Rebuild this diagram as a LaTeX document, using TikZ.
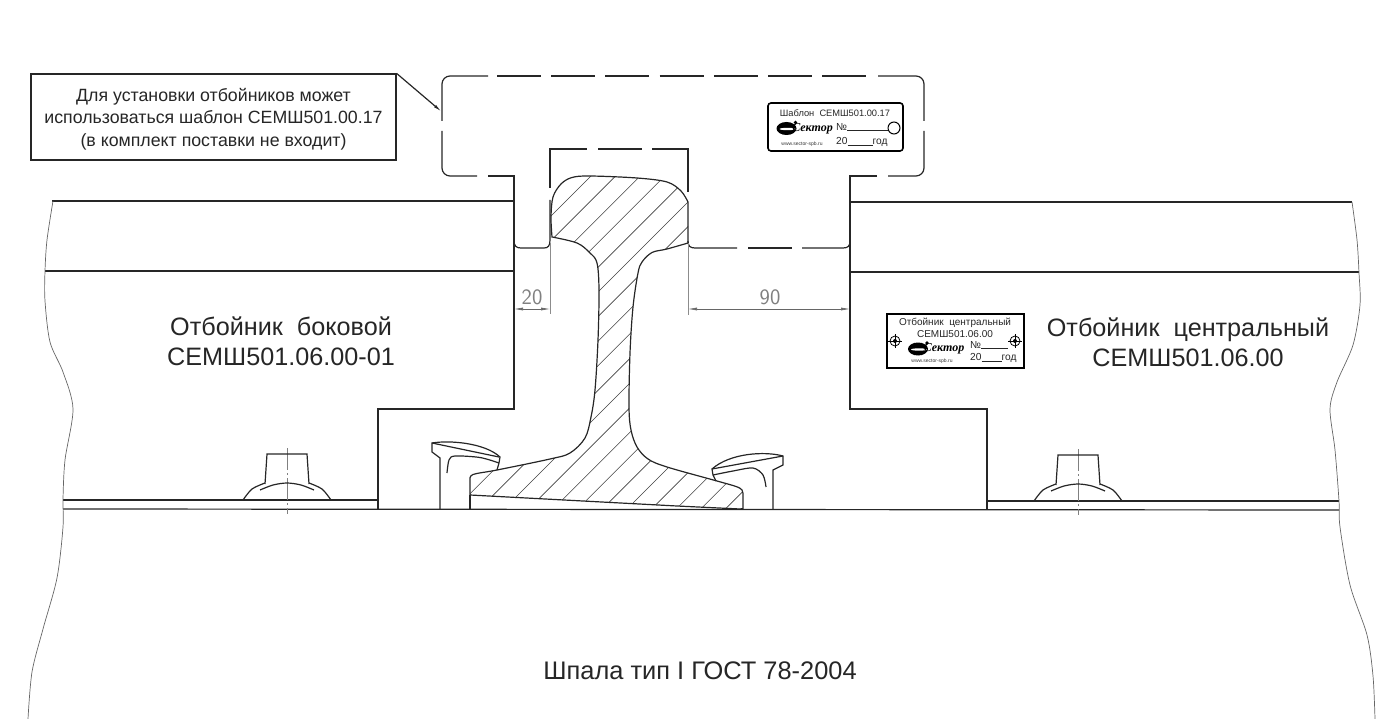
\documentclass[tikz,border=0pt]{standalone}
\usepackage{fontspec}
\setmainfont{Liberation Sans}
\newfontfamily\logofont{Liberation Serif}
\usetikzlibrary{arrows.meta}
\newcommand{\fsz}[1]{\fontsize{#1}{#1}\selectfont}
\newcommand{\railoutline}{plot[smooth,tension=.55] coordinates {(552,237) (551,217) (553,197) (561,184) (572,177.5) (590,176) (637,178) (667,182) (681,191) (688,202)}
    -- plot[smooth,tension=.55] coordinates {(688,243) (667,249) (652,252.5) (642,262) (638,273) (633,307) (630,353) (629,407) (631,430) (637,447) (648,459) (667,467) (717,481) (736,486.5) (742,490) (743,495)}
    -- (743,508.5) -- (740,509) -- (677,506) -- (470,495)
    -- plot[smooth,tension=.55] coordinates {(470,480) (473,474.5) (497,470) (550,459) (570,453) (585,438) (591,417) (595,390) (598,340) (599,290) (597,263) (590,253) (577,243) (552,237)} -- cycle}
\tikzset{
    outline/.style={line width=1.2pt,black!85},
    edgeline/.style={line width=.7pt,black!60},
    hatch/.style={line width=.6pt,black!75},
    extline/.style={line width=.7pt,black!45},
    dimline/.style={line width=.6pt,black!60,{Latex[length=9pt,width=3pt]}-{Latex[length=9pt,width=3pt]}},
    centerline/.style={line width=.6pt,black!50,dash pattern=on 22pt off 3pt on 2pt off 3pt},
    dimtext/.style={font=\sffamily\fsz{22},text=black!50,inner sep=0pt},
    bigtext/.style={font=\fsz{25.2},text=black!85,align=center,inner sep=0pt},
    platetext/.style={font=\fsz{9.3},text=black!85,inner sep=0pt},
    fieldtext/.style={font=\fsz{10.2},text=black!85,inner sep=0pt,anchor=west},
    tinytext/.style={font=\fsz{5},text=black!80,inner sep=0pt},
    logomark/.pic={
        \fill (-16,0) ellipse (10 and 6.5);
        \fill[white] (-15,.5) ellipse (8 and 1.2);
        \fill (-7,-6) circle (1.8);
        \node[inner sep=0pt,font=\logofont\itshape\bfseries\fsz{12}] (word) at (10,0) {Сектор};
    }
}
\begin{document}
\begin{tikzpicture}[x=1pt,y=-1pt]
        \useasboundingbox (0,0) rectangle (1400,719);
        % template, dashed outline
        \draw[outline,rounded corners=8pt] (477,176)--(442,176)--(442,131);
        \draw[outline,rounded corners=8pt] (442,121)--(442,76)--(488,76);
        \foreach \a in {0,...,6}
            \draw[outline] ({497+54.2*\a},76)--({541+54.2*\a},76);
        \draw[outline,rounded corners=8pt] (878,76)--(924,76)--(924,121);
        \draw[outline,rounded corners=8pt] (924,131)--(924,176)--(888,176);
        \draw[outline] (550,188)--(550,149)--(587,149);
        \draw[outline] (598,149)--(642,149);
        \draw[outline] (652,149)--(688,149)--(688,192);
        \draw[outline] (737,248)--(695,248) .. controls (690,248) and (688,246) .. (688,241);
        \draw[outline] (748,248)--(792,248);
        \draw[outline] (802,248)--(843,248) .. controls (848,248) and (850,246) .. (850,241);
        \draw[outline] (514,240) .. controls (514,246) and (516,248) .. (521,248)--(544,248) .. controls (548,248) and (550,246) .. (550,240)--(550,200);
        
        % chocks and sleeper
        \draw[outline] (488,176)--(514,176)--(514,409)--(378,409)--(378,509);
        \draw[outline] (877,176)--(850,176)--(850,409)--(987,409)--(987,510);
        \draw[outline] (52,201)--(514,201);
        \draw[outline] (45,271)--(514,271);
        \draw[outline] (850,202)--(1352,202);
        \draw[outline] (850,272)--(1359,272);
        \draw[outline] (63,500)--(378,500);
        \draw[outline] (987,501)--(1339,501);
        \draw[outline] (63,509)--(1339,510);
        \draw[edgeline] plot[smooth] coordinates {(53,201) (47,240) (45,271) (45,301) (50,342) (63,372) (73,409) (65,460) (63,499) (63,527) (57,578) (43,629) (32,672) (28,719)};
        \draw[edgeline] plot[smooth] coordinates {(1352,202) (1357,240) (1359,273) (1360,305) (1353,345) (1337,382) (1330,409) (1335,450) (1339,501) (1340,527) (1350,585) (1367,635) (1373,676) (1375,719)};
        
        % rail
        \begin{scope}
            \clip \railoutline;
            \foreach \k in {0,...,19}
                \draw[hatch] (440,{767+24.6*\k-440})--(760,{767+24.6*\k-760});
        \end{scope}
        \draw[outline] \railoutline;
        \draw[outline] (470,495)--(470,509);
        
        % rail clips
        \draw[outline] (440,509)--(440,458)--(432,452)--(432,443) .. controls (450,440) and (485,443) .. (500,457)--(499,463)--(497,470);
        \draw[outline] (432,443)--(499,457);
        \draw[outline] plot[smooth] coordinates {(499,463) (480,457.5) (455,456) (449,460) (447,473)};
        \draw[outline] (773,509)--(773,470)--(783,465)--(783,456) .. controls (765,451) and (730,453) .. (712,469)--(713,475)--(716,481);
        \draw[outline] (783,456)--(712,469);
        \draw[outline] plot[smooth] coordinates {(713,475) (733,471) (753,468) (763,475) (766,487)};
        
        % bolts
        \foreach \cx/\dy in {287/0,1078/1} {
            \begin{scope}[shift={(\cx,\dy)}]
                \draw[centerline] (0,448)--(0,514);
                \draw[outline] (-22,484)--(-20,454)--(20,454)--(22,484);
                \draw[outline] plot[smooth] coordinates {(-27,490) (-14,485) (0,483) (14,485) (27,490)};
                \draw[outline] plot[smooth] coordinates {(-44,500) (-35,489) (-22,483)};
                \draw[outline] plot[smooth] coordinates {(22,483) (35,489) (44,500)};
            \end{scope}
        }
        
        % dimensions
        \coordinate (chockL) at (514,309);
        \coordinate (railL) at (550,309);
        \coordinate (railR) at (688,309);
        \coordinate (chockR) at (850,309);
        \draw[extline] (550,243)--(550,314);
        \draw[extline] (688,243)--(688,315);
        \draw[dimline] (chockL)--(railL);
        \draw[dimline] (railR)--(chockR);
        \node[dimtext] (dimA) at (532,297) {20};
        \node[dimtext] (dimB) at (770,297) {90};
        
        % callout
        \node[draw,outline,text=black!85,fill=white,minimum width=365pt,minimum height=86pt,inner sep=0pt,align=center,font=\fontsize{17.75}{22.5}\selectfont] (note) at (213.5,117) {\rule{0pt}{17pt}Для установки отбойников может\\использоваться шаблон СЕМШ501.00.17\\(в комплект поставки не входит)};
        \coordinate (notemark) at (442,112);
        \draw[outline,-{Latex[length=9pt,width=3pt]}] (note.north east)--(notemark);
        
        % texts
        \node[bigtext] (leftname) at (281,341) {Отбойник\ \ боковой\\[5pt]СЕМШ501.06.00-01};
        \node[bigtext] (rightname) at (1188,342) {Отбойник\ \ центральный\\[5pt]СЕМШ501.06.00};
        \node[bigtext,font=\fsz{25.4}] (sleeper) at (700,671) {Шпала тип I ГОСТ 78-2004};
        
        % plate of the template
        \node[draw,line width=1.6pt,black,rounded corners=3pt,minimum width=135pt,minimum height=48pt,inner sep=0pt] (tplplate) at (835.5,127) {};
        \node[platetext] (tpltitle) at (835,113) {Шаблон\ \ СЕМШ501.00.17};
        \pic (tpllogo) at (802.5,128.5) {logomark};
        \node[fieldtext] (tplnum) at (836,127) {№\rule[-.8pt]{42pt}{.6pt}};
        \node[fieldtext] (tplyear) at (836,142) {20\rule[-.8pt]{25pt}{.6pt}год};
        \node[tinytext] (tplweb) at (802,144.5) {www.sector-spb.ru};
        \node[draw,circle,line width=1pt,minimum size=12pt,inner sep=0pt] (tplhole) at (894,128) {};
        
        % plate of the central chock
        \node[draw,line width=2pt,black,minimum width=137pt,minimum height=54pt,inner sep=0pt] (chkplate) at (955.5,341) {};
        \node[platetext,font=\fsz{10}] (chktitle) at (955,323) {Отбойник\ \ центральный};
        \node[platetext,font=\fsz{10}] (chkcode) at (955,334) {СЕМШ501.06.00};
        \pic (chklogo) at (934,349) {logomark};
        \node[fieldtext] (chknum) at (970,345) {№\rule[-.8pt]{27pt}{.6pt}};
        \node[fieldtext] (chkyear) at (970,358) {20\rule[-.8pt]{20pt}{.6pt}год};
        \node[tinytext] (chkweb) at (932,361) {www.sector-spb.ru};
        \foreach \cx/\nm in {895/holeL,1015/holeR} {
            \node[draw,circle,line width=.8pt,minimum size=10pt,inner sep=0pt] (\nm) at (\cx,341) {};
            \fill (\cx,341) circle (2pt);
            \draw[line width=.5pt] (\cx,334)--(\cx,348) (\cx-7,341)--(\cx+7,341);
        }
\end{tikzpicture}
\end{document}
